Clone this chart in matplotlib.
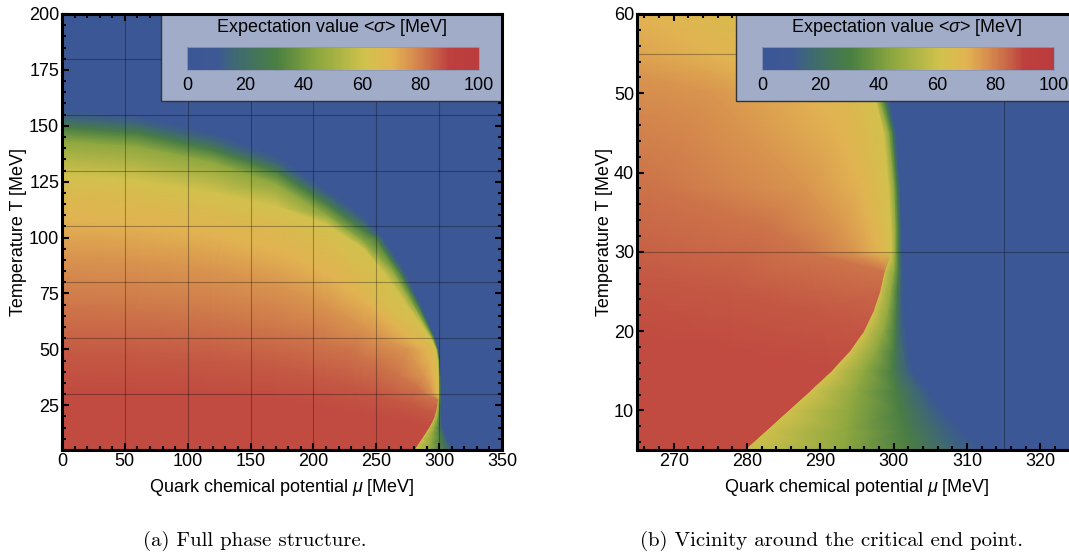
import numpy as np
import matplotlib
matplotlib.use("Agg")
import matplotlib.pyplot as plt
import matplotlib.tri as mtri
from matplotlib.colors import LinearSegmentedColormap, Normalize
from matplotlib.cm import ScalarMappable
from matplotlib.patches import Rectangle
from matplotlib.ticker import MultipleLocator

plt.rcParams['font.family'] = ['Liberation Sans', 'DejaVu Sans']
plt.rcParams['mathtext.fontset'] = 'custom'
plt.rcParams['mathtext.rm'] = 'Liberation Sans'
plt.rcParams['mathtext.it'] = 'Liberation Sans:italic'

nan = np.nan

# <sigma> [MeV] of the contour lines
levels = [2, 15, 30, 45, 62, 66, 70, 76, 82, 86, 88]

# T [MeV] where each contour crosses these mu columns
col_mu = [0, 60, 120, 170, 210, 240]
col_T = [
    [157, 154.5, 147, 137, 122, 110],
    [153.5, 151, 143.5, 133.5, 119, 107],
    [149, 146.5, 139, 129.5, 115, 103],
    [143, 140.5, 133.5, 124, 110, 98],
    [128, 125.5, 120, 114, 106, 95],
    [120, 117.5, 112, 106, 96, 82],
    [108, 106, 101, 94, 84, 72],
    [92, 90, 85.5, 79, 70, 60],
    [68, 66.5, 63, 58, 52, 46],
    [48, 47, 44.5, 41, 36.5, 32],
    [31, 30.5, 29, 27, 24, 21],
]

# mu [MeV] where each contour crosses these T rows (nan: no crossing)
row_T = [100, 85, 70, 55, 50, 45, 38, 33, 30]
row_mu = [
    [256, 273, 286, 297, 299.3, 300.4, 300.9, 301.1, 301.2],
    [253, 270.5, 284, 296.3, 298.9, 300.1, 300.7, 300.9, 300.9],
    [249, 268, 282.5, 295.6, 298.5, 299.8, 300.4, 300.6, 300.6],
    [235, 263, 279, 294.5, 297.8, 299.3, 300.0, 300.2, 300.2],
    [226, 255, 274, 293, 297.3, 298.6, 299.3, 299.6, 299.7],
    [194, 234, 254, 287, 294.5, 296.0, 297.5, 298.4, 298.8],
    [127, 206, 245, 275, 289, 292.5, 295.5, 297.0, 297.8],
    [nan, 124, nan, 255, 275, 280, 288, 292.5, 294.5],
    [nan, nan, nan, 195, 230, 250, 268, 283, 288],
    [nan, nan, nan, nan, nan, 108, 197, 234, 252],
    [nan, nan, nan, nan, nan, nan, nan, nan, nan],
]

# first order line below the critical end point
low_T = [27.5, 25, 22.5, 20, 17.5, 15, 12.5, 10, 7.5, 5]
edge_mu = [298.7, 298.1, 297.2, 295.9, 294.0, 291.5, 288.6, 285.4, 282.0, 278.4]
edge_left = [82, 84, 85.5, 86.5, 87.5, 88, 88, 88, 88, 88]
edge_right = 62

# right of the line: mu of the 2, 15, 30, 45 MeV contours on the low rows
low_mu = [
    [301.3, 301.3, 301.4, 301.7, 302.1, 302.6, 304.8, 306.8, 309.5, 312.5],
    [301.0, 300.9, 300.9, 301.0, 301.3, 301.7, 303.3, 304.8, 306.6, 308.5],
    [300.6, 300.4, 300.3, 300.2, 300.0, 299.8, 300.3, 300.8, 301.5, 302.5],
    [300.0, 299.6, 299.2, 298.6, 297.5, 296.0, 294.8, 294.0, 293.5, 293.0],
]

# left of the line: where the 86 and 88 MeV contours run into it
tail86_mu = [262, 278, 290]
tail86_T = [27.5, 25, 22.5]
tail88_mu = [255, 278]
tail88_T = [20, 17.5]

cmap_pos = [0.0, 0.10, 0.17, 0.31, 0.44, 0.61, 0.70, 0.77, 0.84, 0.90, 1.0]
cmap_col = ['#3c5795', '#3d5895', '#3e6a70', '#4b8040', '#8aa63f', '#d0c24c',
            '#e2b452', '#d8904f', '#c96848', '#bd3f3e', '#bb3c3c']
cmap = LinearSegmentedColormap.from_list('sig', list(zip(cmap_pos, cmap_col)))
norm = Normalize(0, 100)

# ---- mesh the contour lines into strips ----
X, Y, V = [], [], []


def vert(m, t, v):
    X.append(m); Y.append(t); V.append(v)
    return len(X) - 1


def strip(a, b):
    tris = []
    i = j = 0
    dist = lambda p, q: np.hypot((X[p] - X[q]) / 350.0, (Y[p] - Y[q]) / 200.0)
    while i < len(a) - 1 or j < len(b) - 1:
        if i == len(a) - 1:
            step_a = False
        elif j == len(b) - 1:
            step_a = True
        else:
            step_a = dist(a[i + 1], b[j]) < dist(a[i], b[j + 1])
        if step_a:
            tris.append([a[i], a[i + 1], b[j]]); i += 1
        else:
            tris.append([a[i], b[j], b[j + 1]]); j += 1
    return tris


upper = []
for k, lev in enumerate(levels):
    pts = list(zip(col_mu, col_T[k]))
    pts += [(m, t) for t, m in zip(row_T, row_mu[k]) if not np.isnan(m)]
    pts.sort(key=lambda p: -np.arctan2(p[1] / 200.0, p[0] / 350.0))
    upper.append([vert(m, t, lev) for m, t in pts])

eL = [vert(m, t, v) for m, t, v in zip(edge_mu, low_T, edge_left)]
eR = [vert(m, t, edge_right) for m, t in zip(edge_mu, low_T)]
low = [[vert(m, t, levels[k]) for m, t in zip(low_mu[k], low_T)] for k in range(4)]
t86 = [vert(m, t, 86) for m, t in zip(tail86_mu, tail86_T)]
t88 = [vert(m, t, 88) for m, t in zip(tail88_mu, tail88_T)]
bottom = [vert(m, 4, 88) for m in (0, 90, 180, edge_mu[-1])]

tris = []
for k in range(3):
    tris += strip(upper[k] + low[k], upper[k + 1] + low[k + 1])
tris += strip(upper[3] + low[3], upper[4] + eR)
for k in range(4, 8):
    tris += strip(upper[k], upper[k + 1])
tops = [upper[k][-1] for k in (8, 7, 6, 5, 4)]
for a, b in zip(tops[:-1], tops[1:]):
    tris.append([eL[0], a, b])
tris += strip(upper[8] + eL[:4], upper[9] + t86)
tris += strip(upper[9] + t86 + eL[3:5], upper[10] + t88 + [eL[5]])
tris += strip(upper[10] + t88 + eL[5:], bottom)

tri = mtri.Triangulation(np.array(X), np.array(Y), triangles=np.array(tris))
V = np.array(V)

# ---- figure ----
fig = plt.figure(figsize=(10.69, 5.56), dpi=100)
axa = fig.add_axes([62 / 1069, 106 / 556, 440 / 1069, 436 / 556])
axb = fig.add_axes([637 / 1069, 106 / 556, 440 / 1069, 436 / 556])

setup = [
    (axa, (0, 350), (5, 200), 50, 10, 25, 5, [50, 100, 150, 200, 250, 300],
     [30, 55, 80, 105, 130, 155, 180], -0.080),
    (axb, (265, 325), (5, 60), 10, 2, 10, 2, [315], [30, 55], -0.055),
]

for ax, xl, yl, xmaj, xmin, ymaj, ymin, gx, gy, ylab_x in setup:
    ax.set_facecolor(cmap(0.0))
    ax.tripcolor(tri, V, cmap=cmap, norm=norm, shading='gouraud', zorder=1)
    for g in gx:
        ax.axvline(g, color='black', alpha=0.3, lw=0.8, zorder=1.5)
    for g in gy:
        ax.axhline(g, color='black', alpha=0.3, lw=0.8, zorder=1.5)
    ax.set_xlim(*xl)
    ax.set_ylim(*yl)
    ax.xaxis.set_major_locator(MultipleLocator(xmaj))
    ax.xaxis.set_minor_locator(MultipleLocator(xmin))
    ax.yaxis.set_major_locator(MultipleLocator(ymaj))
    ax.yaxis.set_minor_locator(MultipleLocator(ymin))
    for s in ax.spines.values():
        s.set_linewidth(2.2)
    ax.tick_params(which='both', direction='in', top=True, right=True,
                   labelsize=13, width=1.5)
    ax.tick_params(which='major', length=5)
    ax.tick_params(which='minor', length=3)
    ax.tick_params(axis='x', pad=2.5)
    ax.tick_params(axis='y', pad=2)
    ax.set_xlabel(r'Quark chemical potential $\mu$ [MeV]', fontsize=13)
    ax.set_ylabel('Temperature T [MeV]', fontsize=13)
    ax.xaxis.set_label_coords(0.5, -0.062)
    ax.yaxis.set_label_coords(ylab_x, 0.5)

    # legend box with the colour bar
    ax.add_patch(Rectangle((0.225, 0.8005), 0.775, 0.1995, transform=ax.transAxes,
                           facecolor='#a0acc8', edgecolor='#333333', lw=1.0, zorder=2))
    ax.text(0.6125, 0.970, r'Expectation value <$\sigma$> [MeV]', transform=ax.transAxes,
            ha='center', va='center', fontsize=13, zorder=3)
    cax = ax.inset_axes([0.284, 0.8716, 0.6636, 0.0528])
    cb = fig.colorbar(ScalarMappable(norm=norm, cmap=cmap), cax=cax,
                      orientation='horizontal', ticks=[0, 20, 40, 60, 80, 100])
    cb.outline.set_edgecolor('#8d98b8')
    cb.outline.set_linewidth(0.6)
    cax.tick_params(length=0, labelsize=13, pad=5)

fig.text(255 / 1069, 15 / 556, '(a) Full phase structure.', fontfamily='cmr10',
         fontsize=15, ha='center', va='center')
fig.text(640 / 1069, 15 / 556, '(b) Vicinity around the critical end point.',
         fontfamily='cmr10', fontsize=15, ha='left', va='center')

fig.savefig('out.png', dpi=100)
